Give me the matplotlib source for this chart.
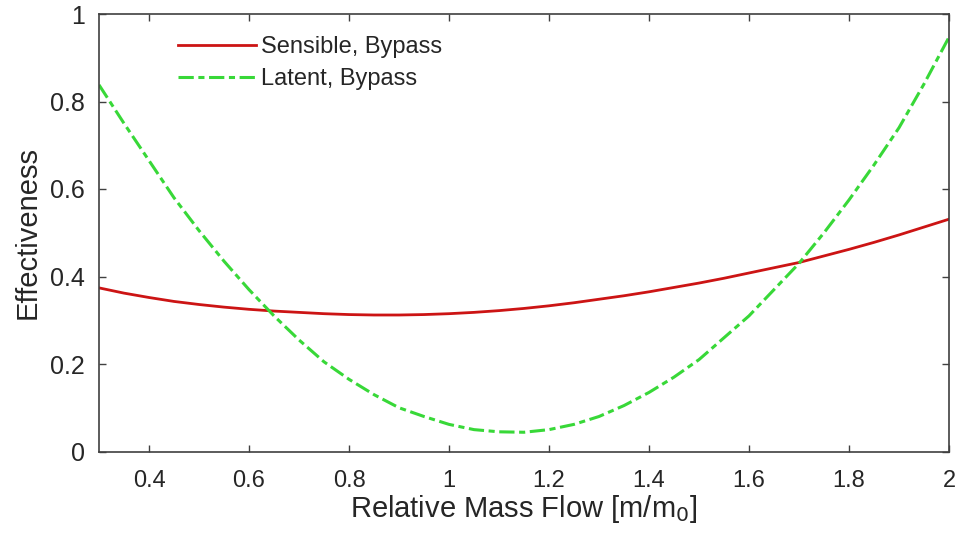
import numpy as np
import matplotlib.pyplot as plt

plt.rcParams['font.family'] = ['Liberation Sans', 'DejaVu Sans']

# relative mass flow
mass_flow = [0.30, 0.35, 0.40, 0.45, 0.50, 0.55, 0.60, 0.65, 0.70, 0.75,
             0.80, 0.85, 0.90, 0.95, 1.00, 1.05, 1.10, 1.15, 1.20, 1.25,
             1.30, 1.35, 1.40, 1.45, 1.50, 1.55, 1.60, 1.65, 1.70, 1.75,
             1.80, 1.85, 1.90, 1.95, 2.00]

# effectiveness
sensible = [0.374, 0.362, 0.352, 0.343, 0.336, 0.330, 0.325, 0.321, 0.318, 0.315,
            0.313, 0.312, 0.312, 0.313, 0.315, 0.318, 0.322, 0.327, 0.333, 0.340,
            0.348, 0.356, 0.365, 0.375, 0.385, 0.396, 0.408, 0.420, 0.432, 0.447,
            0.462, 0.478, 0.495, 0.513, 0.531]
latent = [0.838, 0.750, 0.665, 0.580, 0.505, 0.435, 0.370, 0.310, 0.255, 0.205,
          0.165, 0.130, 0.100, 0.080, 0.062, 0.050, 0.045, 0.044, 0.050, 0.062,
          0.080, 0.105, 0.135, 0.170, 0.210, 0.260, 0.310, 0.370, 0.430, 0.500,
          0.575, 0.655, 0.740, 0.840, 0.947]

x_ticks = [0.4, 0.6, 0.8, 1.0, 1.2, 1.4, 1.6, 1.8, 2.0]
y_ticks = [0, 0.2, 0.4, 0.6, 0.8, 1.0]

txt = '#262626'

fig = plt.figure(figsize=(9.65, 5.42), dpi=100)
ax = fig.add_axes([99 / 965, 1 - 451.5 / 542, 850 / 965, 437.5 / 542])

ax.plot(mass_flow, sensible, color='#cc1414', lw=2.0, label='Sensible, Bypass')
ax.plot(mass_flow, latent, color='#38d838', lw=2.2, ls=(0, (5, 1.5, 2, 1.5)),
        label='Latent, Bypass')

ax.set_xlim(0.3, 2.0)
ax.set_ylim(0, 1)
ax.set_xticks(x_ticks)
ax.set_xticklabels(['0.4', '0.6', '0.8', '1', '1.2', '1.4', '1.6', '1.8', '2'])
ax.set_yticks(y_ticks)
ax.set_yticklabels(['0', '0.2', '0.4', '0.6', '0.8', '1'])
ax.tick_params(direction='in', length=5, width=1, colors='#404040',
               labelcolor=txt, labelsize=18, top=True, right=True)
ax.tick_params(axis='x', pad=13, labelsize=17)
ax.tick_params(axis='y', pad=10)
for s in ax.spines.values():
    s.set_color('#404040')
    s.set_linewidth(1.2)

ax.set_xlabel('Relative Mass Flow [m/m$_0$]', fontsize=21, color=txt, labelpad=1)
ax.set_ylabel('Effectiveness', fontsize=21, color=txt, labelpad=6)

ax.legend(loc='upper left', bbox_to_anchor=(0.093, 0.949), frameon=False,
          borderaxespad=0, borderpad=0,
          fontsize=17, handlelength=3.3, handletextpad=0.2, labelspacing=0.43,
          labelcolor=txt)

fig.savefig('out.png', dpi=100)
